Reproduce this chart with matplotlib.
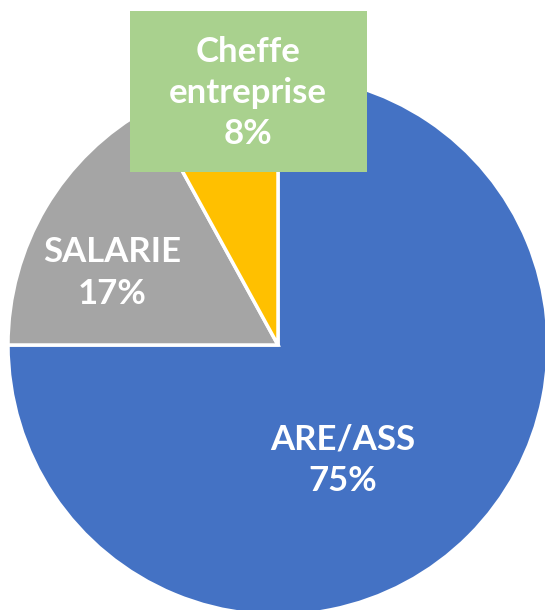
import matplotlib.pyplot as plt

labels = ["ARE/ASS", "SALARIE", "Cheffe\nentreprise"]
shares = [75, 17, 8]
colors = ["#4472C4", "#A5A5A5", "#FFC000"]

fig = plt.figure(figsize=(5.45, 6.1), dpi=100)
ax = fig.add_axes([0, 0, 1, 1])

ax.pie(shares, colors=colors, startangle=90, counterclock=False,
       center=(278, 265), radius=270, frame=True,
       wedgeprops=dict(edgecolor="white", linewidth=2.5))
ax.set_xlim(0, 545)
ax.set_ylim(0, 610)
ax.set_aspect("equal")
ax.axis("off")

font = dict(family=["Lato", "DejaVu Sans"], fontweight="bold", color="white",
            fontsize=25, ha="center", va="center", linespacing=1.35)

ax.text(343, 150, f"{labels[0]}\n{shares[0]}%", **font)
ax.text(112, 337, f"{labels[1]}\n{shares[1]}%", **font)
# green label box for the small slice
ax.add_patch(plt.Rectangle((130, 438), 237, 161, facecolor="#A9D18E",
                           edgecolor="none", zorder=3))
ax.text(248, 517, f"{labels[2]}\n{shares[2]}%", zorder=4, **font)

fig.savefig("out.png", dpi=100)
